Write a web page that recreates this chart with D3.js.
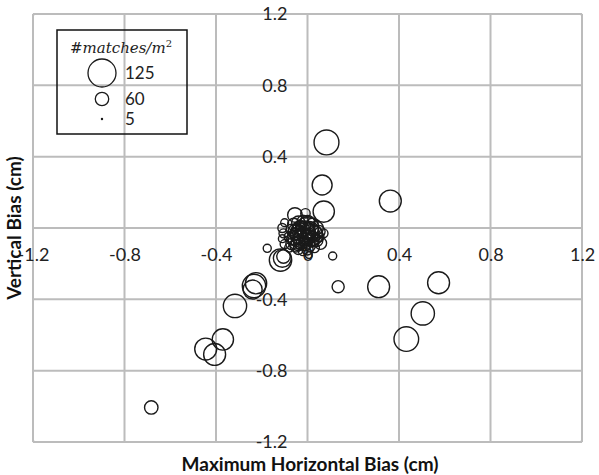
<!DOCTYPE html>
<html>
<head>
<meta charset="utf-8">
<script src="https://cdn.jsdelivr.net/npm/d3@7"></script>
<style>
  html, body { margin: 0; padding: 0; background: #fff; }
  svg { display: block; }
</style>
</head>
<body>
<svg id="chart" width="599" height="475"></svg>
<script>
// Bias of each matched location (cm) and its match density (#matches per m²)
const xBias = [
  0.083, 0.064, 0.071, 0.362, 0.11, 0.134, 0.311, 0.573, 0.504, 0.432,
  -0.683, -0.445, -0.406, -0.37, -0.317, -0.234, -0.225, -0.24,
  -0.055, -0.009, -0.176, -0.118, -0.11, -0.105, 0.006, 0.057, 0.07,
  -0.11, -0.105, -0.11, -0.1, -0.1,
  -0.06, -0.04, -0.02, 0.0, 0.02, 0.04,
  -0.07, -0.05, -0.03, -0.01, 0.01, 0.03, 0.05,
  -0.08, -0.06, -0.04, -0.02, 0.0, 0.02, 0.04,
  -0.07, -0.05, -0.03, -0.01, 0.01, 0.03,
  -0.04, -0.02, 0.0, -0.08,
  0.0, -0.02, 0.02, -0.04,
  -0.03, 0.01, -0.01, 0.03, 0.05, -0.06,
  -0.03, -0.01, 0.01, -0.02, 0.0, -0.04, -0.05, -0.03, -0.01, 0.01,
  0.02, -0.02, -0.06, 0.03, -0.04, 0.0, -0.02, 0.02, -0.05, 0.04
];
const yBias = [
  0.48, 0.241, 0.092, 0.151, -0.157, -0.329, -0.329, -0.307, -0.479, -0.623,
  -1.006, -0.679, -0.709, -0.625, -0.437, -0.325, -0.31, -0.345,
  0.073, 0.082, -0.114, -0.18, -0.17, -0.16, -0.152, -0.086, -0.03,
  0.0, -0.03, -0.06, 0.03, -0.09,
  0.02, 0.03, 0.04, 0.03, 0.02, 0.0,
  -0.01, -0.02, -0.01, -0.02, -0.01, -0.03, -0.02,
  -0.05, -0.06, -0.04, -0.06, -0.05, -0.06, -0.07,
  -0.09, -0.1, -0.08, -0.09, -0.1, -0.11,
  -0.12, -0.13, -0.12, -0.11,
  0.0, -0.03, -0.04, -0.07,
  0.01, 0.01, -0.07, -0.08, -0.05, -0.03,
  -0.03, -0.04, -0.05, -0.01, -0.02, -0.02, -0.05, -0.06, -0.08, -0.07,
  -0.03, -0.09, -0.08, -0.05, -0.1, 0.01, 0.01, -0.09, 0.0, -0.04
];
const matches = [
  111, 89, 95, 98, 36, 54, 98, 98, 104, 110,
  60, 98, 98, 95, 104, 104, 95, 85,
  65, 42, 36, 100, 80, 60, 30, 54, 40,
  40, 40, 35, 35, 40,
  55, 60, 50, 65, 55, 60,
  50, 70, 80, 90, 75, 70, 55,
  45, 60, 75, 85, 70, 65, 55,
  50, 55, 65, 60, 50, 45,
  45, 40, 50, 40,
  100, 110, 95, 90,
  45, 40, 40, 40, 45, 40,
  30, 25, 30, 25, 30, 25, 30, 25, 30, 25,
  25, 25, 25, 30, 25, 30, 25, 25, 30, 25
];

// Axis ticks and legend entries
const ticks = [-1.2, -0.8, -0.4, 0, 0.4, 0.8, 1.2];
const legendValues = [125, 60, 5];
const legendTitle = "#matches/m";

const svg = d3.select("#chart");
const margin = { left: 33, right: 17, top: 14, bottom: 33 };
const W = 599, H = 475;

const x = d3.scaleLinear().domain([-1.2, 1.2]).range([margin.left, W - margin.right]);
const y = d3.scaleLinear().domain([-1.2, 1.2]).range([H - margin.bottom, margin.top]);
const r = d3.scaleLinear().domain([0, 125]).range([0, 14]);

const gridColor = "#bcbcbc";

// Gridlines
const grid = svg.append("g");
grid.selectAll("line.v").data(ticks).join("line")
  .attr("x1", d => x(d)).attr("x2", d => x(d))
  .attr("y1", y(1.2)).attr("y2", y(-1.2))
  .attr("stroke", gridColor).attr("stroke-width", 2);
grid.selectAll("line.h").data(ticks).join("line")
  .attr("y1", d => y(d)).attr("y2", d => y(d))
  .attr("x1", x(-1.2)).attr("x2", x(1.2))
  .attr("stroke", gridColor).attr("stroke-width", 2);
grid.append("rect")
  .attr("x", x(-1.2)).attr("y", y(1.2))
  .attr("width", x(1.2) - x(-1.2)).attr("height", y(-1.2) - y(1.2))
  .attr("rx", 2).attr("fill", "none")
  .attr("stroke", gridColor).attr("stroke-width", 2);

// Plain hyphen for negatives
const fmt = d => d === 0 ? "0" : d.toFixed(1);
const labelFont = "Lato, 'Open Sans', sans-serif";

// Horizontal axis labels along y = 0
const xAxis = svg.append("g")
  .attr("transform", `translate(0,${y(0)})`)
  .call(d3.axisBottom(x).tickValues(ticks).tickFormat(fmt).tickSize(0).tickPadding(20));
xAxis.select(".domain").remove();
xAxis.selectAll("text").attr("font-family", labelFont).attr("font-size", 18).attr("fill", "#222");

// Vertical axis labels along x = 0
const yAxis = svg.append("g")
  .attr("transform", `translate(${x(0)},0)`)
  .call(d3.axisLeft(y).tickValues(ticks.filter(d => d !== 0)).tickFormat(fmt).tickSize(0).tickPadding(20));
yAxis.select(".domain").remove();
yAxis.selectAll("text").attr("font-family", labelFont).attr("font-size", 18).attr("fill", "#222");

// Bubbles
const pts = xBias.map((d, i) => ({ x: d, y: yBias[i], v: matches[i] }));
svg.append("g").selectAll("circle").data(pts).join("circle")
  .attr("cx", d => x(d.x)).attr("cy", d => y(d.y)).attr("r", d => r(d.v))
  .attr("fill", "none").attr("stroke", "#1a1a1a").attr("stroke-width", 1.4);

// Axis titles
svg.append("text")
  .attr("x", 310).attr("y", 471)
  .attr("text-anchor", "middle")
  .attr("font-family", labelFont).attr("font-weight", "bold").attr("font-size", 19)
  .attr("fill", "#111")
  .text("Maximum Horizontal Bias (cm)");
svg.append("text")
  .attr("transform", `translate(21,${y(0)}) rotate(-90)`)
  .attr("text-anchor", "middle")
  .attr("font-family", labelFont).attr("font-weight", "bold").attr("font-size", 19)
  .attr("fill", "#111")
  .text("Vertical Bias (cm)");

// Legend
const lg = svg.append("g");
lg.append("rect")
  .attr("x", 57).attr("y", 30).attr("width", 130).attr("height", 104)
  .attr("fill", "none").attr("stroke", "#111").attr("stroke-width", 1.5);
const lt = lg.append("text")
  .attr("x", 121).attr("y", 53).attr("text-anchor", "middle")
  .attr("font-family", "'DejaVu Serif', 'Liberation Serif', serif").attr("font-style", "italic")
  .attr("font-size", 15).attr("fill", "#222");
lt.append("tspan").text(legendTitle);
lt.append("tspan").attr("dy", -6).attr("font-size", 10).attr("font-style", "normal").text("2");
const legendY = [73, 99, 119];
lg.selectAll("circle").data(legendValues).join("circle")
  .attr("cx", 102).attr("cy", (d, i) => legendY[i]).attr("r", d => r(d))
  .attr("fill", "none").attr("stroke", "#1a1a1a").attr("stroke-width", 1.3);
lg.selectAll("text.v").data(legendValues).join("text")
  .attr("class", "v")
  .attr("x", 125).attr("y", (d, i) => legendY[i] + 6)
  .attr("font-family", labelFont).attr("font-size", 17).attr("fill", "#222")
  .text(d => d);
</script>
</body>
</html>
